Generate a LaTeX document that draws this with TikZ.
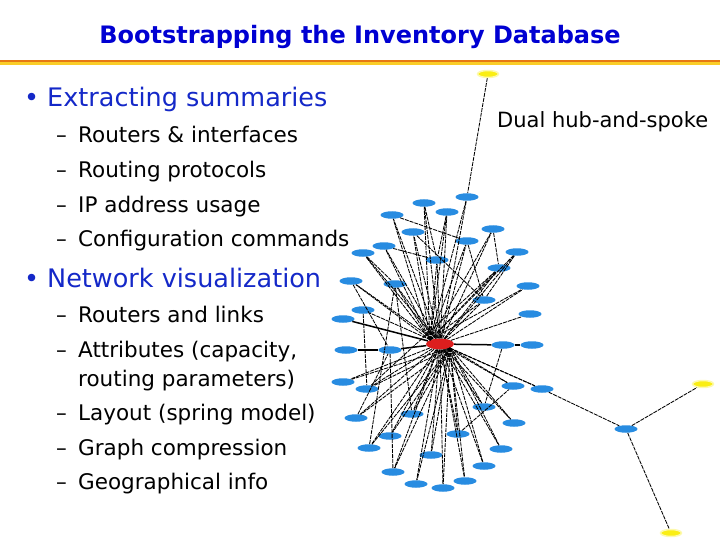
\documentclass[tikz,border=0pt]{standalone}
\usepackage{fontspec}
\setmainfont{DejaVu Sans}
\usetikzlibrary{shapes.geometric}

\definecolor{titleBlue}{RGB}{0,0,210}
\definecolor{itemBlue}{RGB}{20,40,200}
\definecolor{nodeBlue}{RGB}{40,140,225}
\definecolor{hubRed}{RGB}{220,30,30}
\definecolor{nodeYellow}{RGB}{250,238,20}
\definecolor{barOrange}{RGB}{230,120,20}
\definecolor{barYellow}{RGB}{250,205,40}

\tikzset{
  blueNode/.style={ellipse, fill=nodeBlue, minimum width=23pt, minimum height=7.5pt, inner sep=0pt},
  hubNode/.style={ellipse, fill=hubRed, minimum width=28pt, minimum height=11pt, inner sep=0pt},
  yellowNode/.style={ellipse, fill=nodeYellow, draw=nodeYellow!35, line width=1.5pt,
                     minimum width=21pt, minimum height=7pt, inner sep=0pt},
  link/.style={line width=0.85pt, dash pattern=on 4pt off 1pt},
  thickLink/.style={line width=1.5pt},
  topItem/.style={anchor=base west, inner sep=0pt, text=itemBlue, font=\fontsize{25.5}{30}\selectfont},
  subItem/.style={anchor=base west, inner sep=0pt, font=\fontsize{21.5}{26}\selectfont},
}

\begin{document}
\begin{tikzpicture}[x=1pt, y=-1pt]

  %% ════ 标题与横条 ════
  \node[anchor=base, inner sep=0pt, text=titleBlue, font=\fontsize{24}{28}\bfseries] (title) at (360,44)
    {Bootstrapping the Inventory Database};
  \fill[barOrange] (0,60) rectangle (720,62.5);
  \fill[barYellow] (0,62.5) rectangle (720,65);

  %% ════ 左侧要点 ════
  \node[topItem] (itemA) at (24,107) {•\hspace{8pt}Extracting summaries};
  \node[subItem] (dashA1) at (56,143) {–};
  \node[subItem] (subA1) at (78,143) {Routers \& interfaces};
  \node[subItem] (dashA2) at (56,178) {–};
  \node[subItem] (subA2) at (78,178) {Routing protocols};
  \node[subItem] (dashA3) at (56,213) {–};
  \node[subItem] (subA3) at (78,213) {IP address usage};
  \node[subItem] (dashA4) at (56,247) {–};
  \node[subItem] (subA4) at (78,247) {Configuration commands};

  \node[topItem] (itemB) at (24,287) {•\hspace{8pt}Network visualization};
  \node[subItem] (dashB1) at (56,322) {–};
  \node[subItem] (subB1) at (78,322) {Routers and links};
  \node[subItem] (dashB2) at (56,357) {–};
  \node[subItem] (subB2) at (78,357) {Attributes (capacity,};
  \node[subItem] (subB2b) at (78,386) {routing parameters)};
  \node[subItem] (dashB3) at (56,420) {–};
  \node[subItem] (subB3) at (78,420) {Layout (spring model)};
  \node[subItem] (dashB4) at (56,455) {–};
  \node[subItem] (subB4) at (78,455) {Graph compression};
  \node[subItem] (dashB5) at (56,489) {–};
  \node[subItem] (subB5) at (78,489) {Geographical info};

  \node[anchor=base west, inner sep=0pt, font=\fontsize{21}{25}\selectfont] (dualLabel) at (497,128)
    {Dual hub-and-spoke};

  %% ════ 结点 ════
  \node[hubNode] (hub) at (440,344) {};
  \foreach \i/\x/\y in {%
      1/467/197, 2/424/203, 3/447/212, 4/392/215, 5/413/232, 6/493/229,
      7/467/241, 8/384/246, 9/363/253, 10/437/260, 11/517/252, 12/499/268,
      13/351/281, 14/395/284, 15/528/286, 16/484/300, 17/363/310, 18/343/319,
      19/530/314, 20/346/350, 21/390/350, 22/503/345, 23/532/345,
      24/343/382, 25/367/389, 26/513/386, 27/542/389, 28/484/407, 29/356/418,
      30/412/414, 31/514/423, 32/390/436, 33/458/434, 34/369/448, 35/501/449,
      36/431/455, 37/484/466, 38/393/472, 39/465/481, 40/416/484, 41/443/488}{
    \node[blueNode] (n\i) at (\x,\y) {};
  }
  \node[blueNode] (farBlue) at (626,429) {};
  \node[yellowNode] (yTop) at (488,74) {};
  \node[yellowNode] (yRight) at (703,384) {};
  \node[yellowNode] (yBottom) at (671,533) {};

  %% ════ 连线 ════
  \foreach \i in {1,...,17,19}
    \draw[link] (hub) -- (n\i);
  \foreach \i in {24,...,41}
    \draw[link] (hub) -- (n\i);
  % 双链路：从 hub 边缘再拉一根，扇形更密
  \foreach \i in {1,...,16}
    \draw[link] (hub.north west) -- (n\i);
  \foreach \i in {24,...,41}
    \draw[link] (hub.south east) -- (n\i);
  \foreach \a/\b in {hub/n18, hub/n21, hub/n22, n20/n21, n22/n23}
    \draw[thickLink] (\a) -- (\b);
  % 结点之间的交叉线
  \foreach \a/\b in {n17/n25, n8/n10, n22/n28, n4/n7, n2/n10, n3/n10, n7/n16,
                     n6/n12, n11/n16, n9/n14, n13/n21, n5/n16, n14/n30,
                     n25/n12, n29/n21, n33/n26, n34/n14, n38/n21,
                     yTop/n1, n27/farBlue, farBlue/yRight, farBlue/yBottom}
    \draw[link] (\a) -- (\b);

  \pgfresetboundingbox
  \path[use as bounding box] (0,0) rectangle (720,540);
\end{tikzpicture}
\end{document}
